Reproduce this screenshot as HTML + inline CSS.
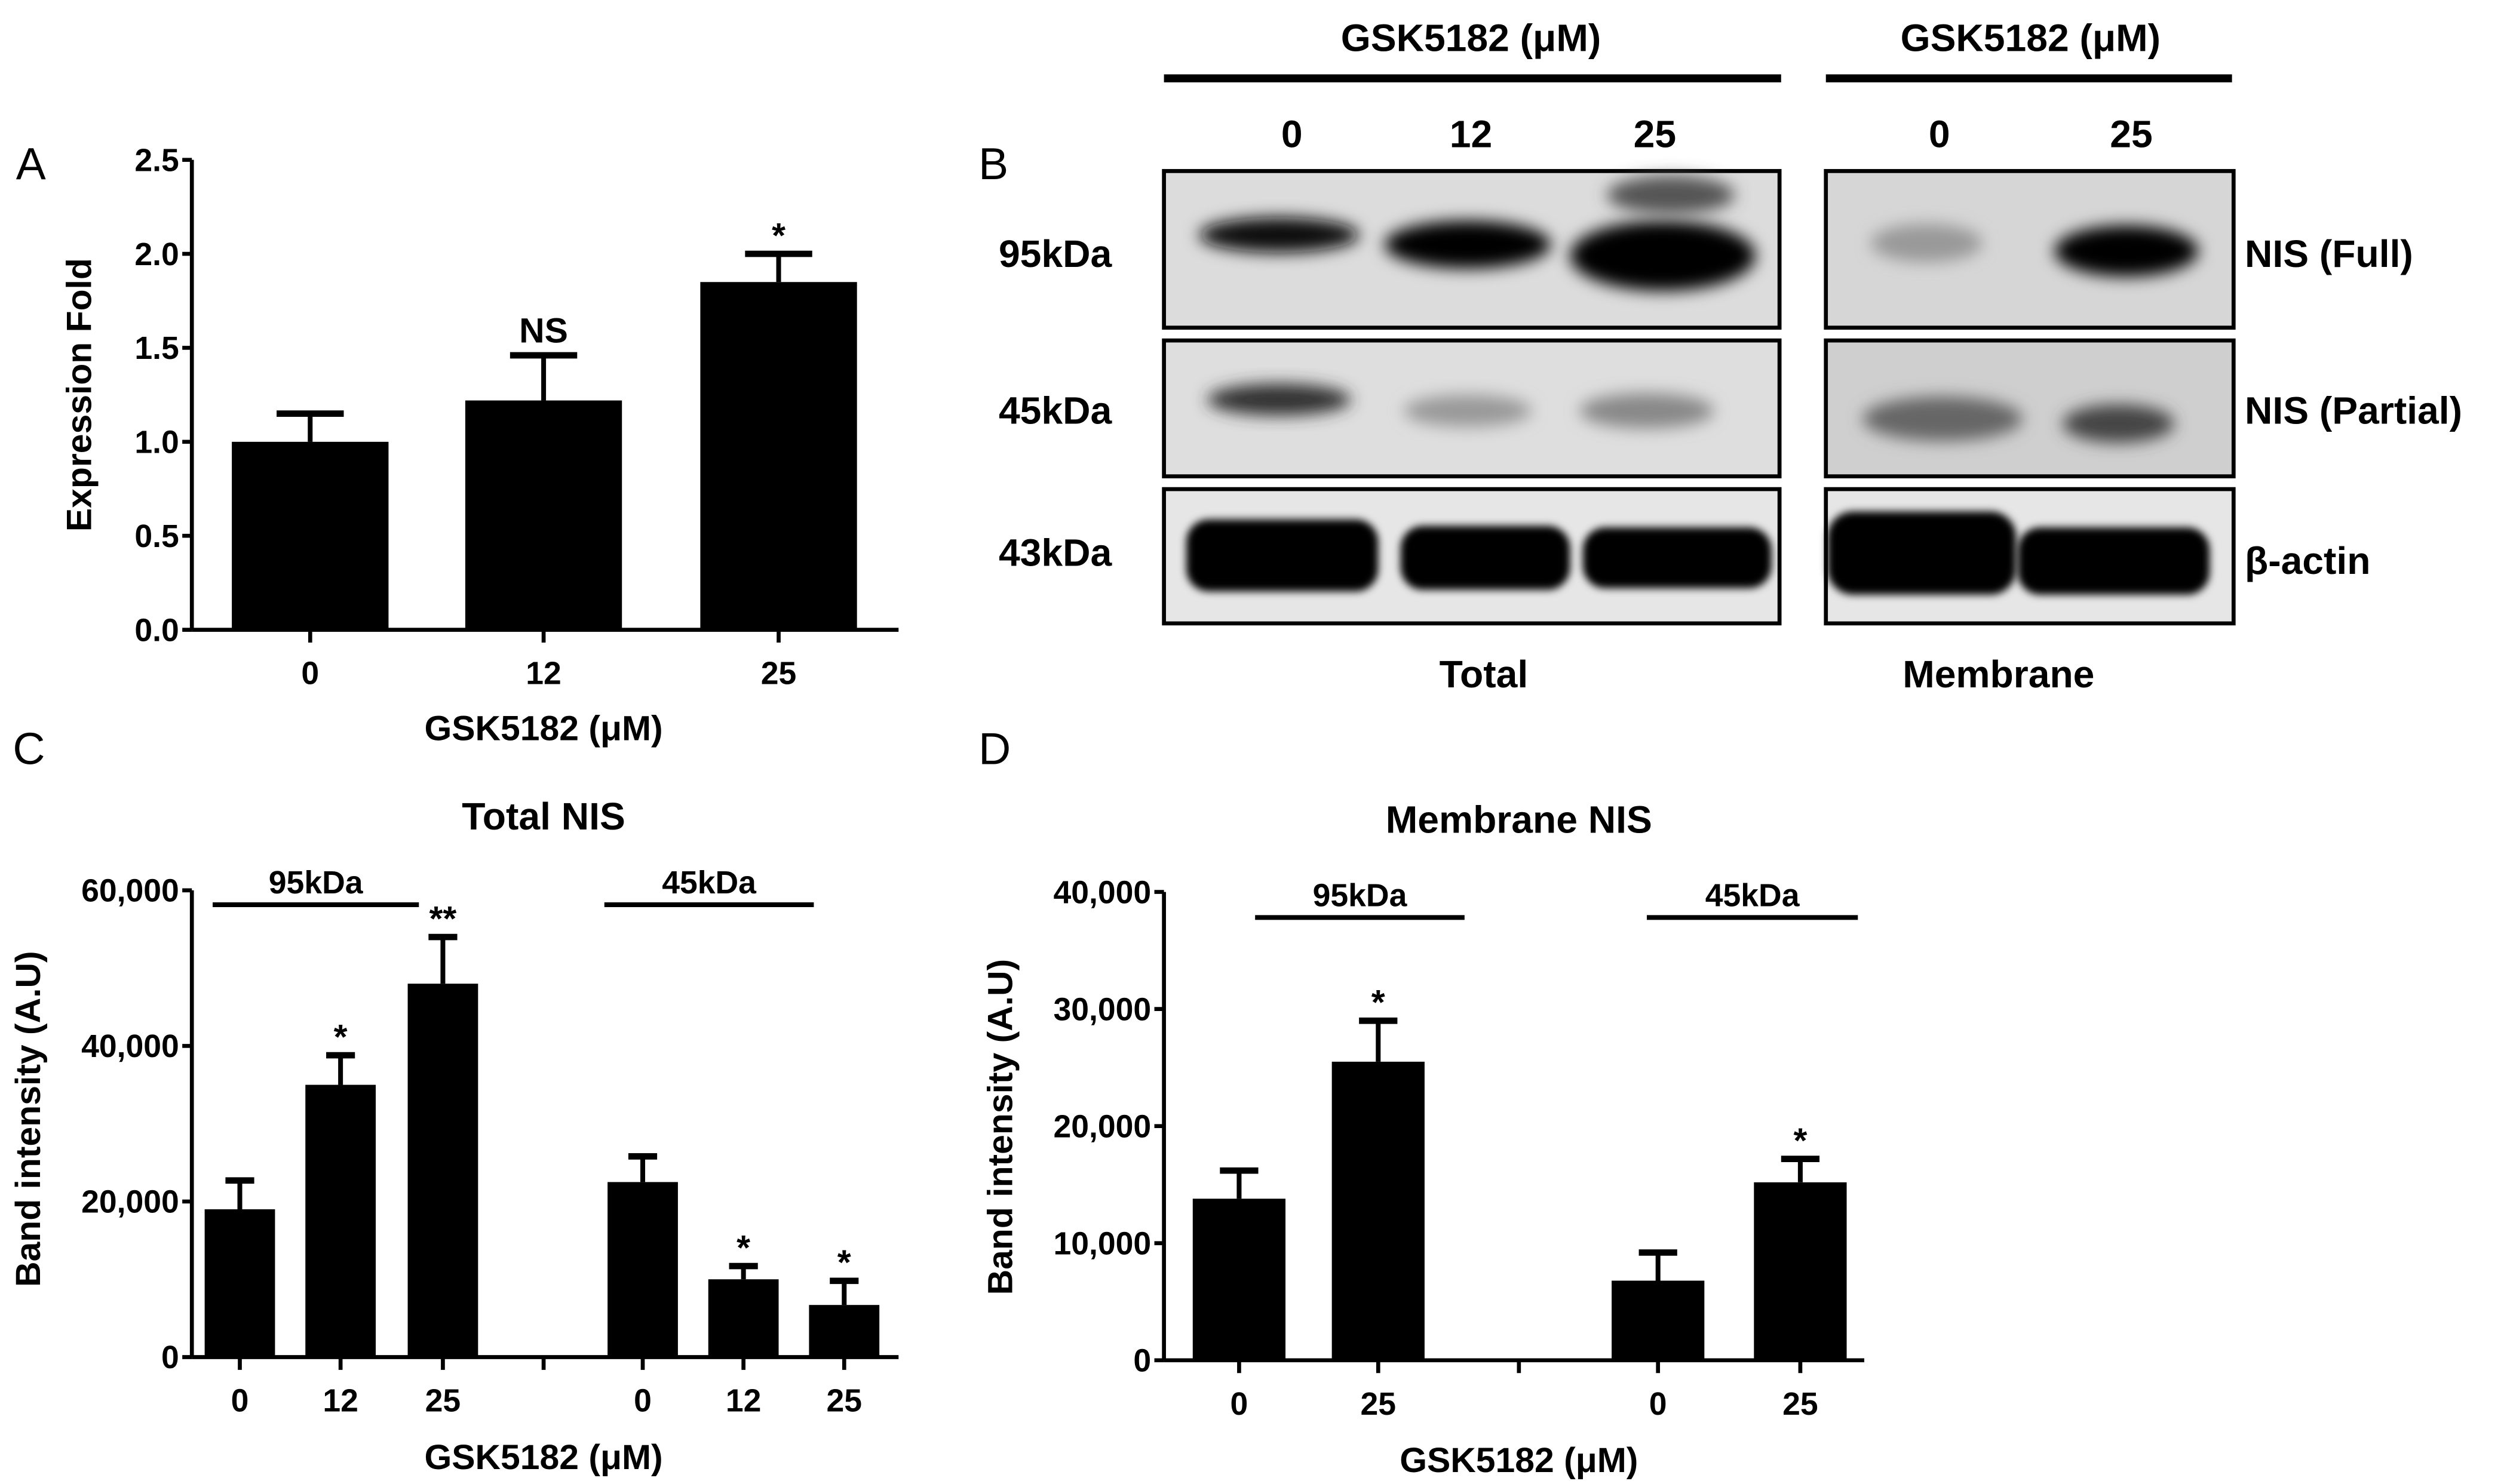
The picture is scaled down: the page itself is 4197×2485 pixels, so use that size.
<!DOCTYPE html>
<html><head><meta charset="utf-8"><style>
html,body{margin:0;padding:0;background:#fff}
svg{display:block}
text{font-family:"Liberation Sans",sans-serif;font-weight:bold;fill:#000}
</style></head><body>
<svg id="fig" width="4197" height="2485" viewBox="0 0 1568 928.4" xmlns="http://www.w3.org/2000/svg">
<defs>
<filter id="blur" x="-20%" y="-50%" width="140%" height="200%"><feGaussianBlur stdDeviation="5"/></filter>
<filter id="blur2" x="-20%" y="-50%" width="140%" height="200%"><feGaussianBlur stdDeviation="2.5"/></filter>
</defs>
<g id="panelA"></g>
<g id="panelB">
  <text x="10" y="112" font-size="28" style="font-weight:normal">A</text>
  <text x="612" y="112" font-size="28" style="font-weight:normal">B</text>
  <text x="8" y="478" font-size="28" style="font-weight:normal">C</text>
  <text x="612" y="478" font-size="28" style="font-weight:normal">D</text>
  <text x="920" y="32" font-size="24" text-anchor="middle">GSK5182 (μM)</text>
  <line x1="728" y1="49" x2="1114" y2="49" stroke="#000" stroke-width="5"/>
  <text x="1270" y="32" font-size="24" text-anchor="middle">GSK5182 (μM)</text>
  <line x1="1142" y1="49" x2="1396" y2="49" stroke="#000" stroke-width="5"/>
  <text x="808" y="92" font-size="24" text-anchor="middle">0</text>
  <text x="920" y="92" font-size="24" text-anchor="middle">12</text>
  <text x="1035" y="92" font-size="24" text-anchor="middle">25</text>
  <text x="1213" y="92" font-size="24" text-anchor="middle">0</text>
  <text x="1333" y="92" font-size="24" text-anchor="middle">25</text>
  <text x="660" y="167" font-size="24" text-anchor="middle">95kDa</text>
  <text x="660" y="265" font-size="24" text-anchor="middle">45kDa</text>
  <text x="660" y="354" font-size="24" text-anchor="middle">43kDa</text>
  <text x="1404" y="167" font-size="24">NIS (Full)</text>
  <text x="1404" y="265" font-size="24">NIS (Partial)</text>
  <text x="1404" y="359" font-size="24">β-actin</text>
  <text x="928" y="430" font-size="24" text-anchor="middle">Total</text>
  <text x="1250" y="430" font-size="24" text-anchor="middle">Membrane</text>
  <g>
    <rect x="728" y="107" width="385" height="98" fill="#dcdcdc" stroke="#000" stroke-width="2.5"/>
    <ellipse cx="800" cy="147" rx="50" ry="11" fill="#111" filter="url(#blur)"/>
    <ellipse cx="918" cy="153" rx="52" ry="15" fill="#050505" filter="url(#blur)"/>
    <ellipse cx="1040" cy="160" rx="58" ry="22" fill="#000" filter="url(#blur)"/>
    <ellipse cx="1045" cy="122" rx="40" ry="12" fill="#555" filter="url(#blur)"/>
  </g>
  <g>
    <rect x="728" y="213" width="385" height="85" fill="#dedede" stroke="#000" stroke-width="2.5"/>
    <ellipse cx="800" cy="250" rx="45" ry="10" fill="#333" filter="url(#blur)"/>
    <ellipse cx="918" cy="257" rx="40" ry="10" fill="#999" filter="url(#blur)"/>
    <ellipse cx="1030" cy="257" rx="42" ry="11" fill="#888" filter="url(#blur)"/>
  </g>
  <g>
    <rect x="728" y="306" width="385" height="84" fill="#e6e6e6" stroke="#000" stroke-width="2.5"/>
    <rect x="742" y="325" width="120" height="45" rx="14" fill="#000" filter="url(#blur2)"/>
    <rect x="876" y="329" width="106" height="40" rx="14" fill="#000" filter="url(#blur2)"/>
    <rect x="990" y="330" width="118" height="38" rx="14" fill="#000" filter="url(#blur2)"/>
  </g>
  <g>
    <rect x="1142" y="107" width="255" height="98" fill="#d6d6d6" stroke="#000" stroke-width="2.5"/>
    <ellipse cx="1205" cy="152" rx="35" ry="12" fill="#999" filter="url(#blur)"/>
    <ellipse cx="1330" cy="157" rx="45" ry="16" fill="#050505" filter="url(#blur)"/>
  </g>
  <g>
    <rect x="1142" y="213" width="255" height="85" fill="#cfcfcf" stroke="#000" stroke-width="2.5"/>
    <ellipse cx="1215" cy="262" rx="50" ry="14" fill="#666" filter="url(#blur)"/>
    <ellipse cx="1325" cy="265" rx="35" ry="12" fill="#444" filter="url(#blur)"/>
  </g>
  <g>
    <rect x="1142" y="306" width="255" height="84" fill="#e6e6e6" stroke="#000" stroke-width="2.5"/>
    <rect x="1143" y="320" width="118" height="52" rx="16" fill="#000" filter="url(#blur2)"/>
    <rect x="1262" y="330" width="120" height="42" rx="14" fill="#000" filter="url(#blur2)"/>
  </g>
</g>
<g id="panelC"></g>
<g id="panelD"></g>
</svg>
<script>
const aCategories = ["0","12","25"];
const aValues = [1.0, 1.22, 1.85];
const aErrors = [0.15, 0.24, 0.15];
const aSig = ["", "NS", "*"];
const aTicks = [0, 0.5, 1.0, 1.5, 2.0, 2.5];
const aTickLabels = ["0.0","0.5","1.0","1.5","2.0","2.5"];
const cCategories = ["0","12","25","0","12","25"];
const cValues = [19000, 35000, 48000, 22500, 10000, 6700];
const cErrors = [3700, 3800, 6000, 3300, 1700, 3100];
const cSig = ["", "*", "**", "", "*", "*"];
const cTicks = [0, 20000, 40000, 60000];
const cTickLabels = ["0","20,000","40,000","60,000"];
const dCategories = ["0","25","0","25"];
const dValues = [13800, 25500, 6800, 15200];
const dErrors = [2400, 3500, 2400, 2000];
const dSig = ["", "*", "", "*"];
const dTicks = [0, 10000, 20000, 30000, 40000];
const dTickLabels = ["0","10,000","20,000","30,000","40,000"];

const NS = "http://www.w3.org/2000/svg";
function mk(parent, tag, attrs, txt){
  const e = document.createElementNS(NS, tag);
  for (const k in attrs) e.setAttribute(k, attrs[k]);
  if (txt !== undefined) e.textContent = txt;
  parent.appendChild(e);
  return e;
}
function drawPanel(g, cfg){
  const y = v => cfg.y0 - v / cfg.ymax * (cfg.y0 - cfg.y1);
  const ya = mk(g, "line", {x1:cfg.ax, y1:cfg.y1, x2:cfg.ax, y2:cfg.y0, stroke:"#000", "stroke-width":2.5});
  
  
  const xa = mk(g, "line", {x1:cfg.ax, y1:cfg.y0, x2:cfg.xend, y2:cfg.y0, stroke:"#000", "stroke-width":2.5});
  
  
  cfg.ticks.forEach((t,i)=>{
    const tl = mk(g, "line", {x1:cfg.ax-6, y1:y(t), x2:cfg.ax, y2:y(t), stroke:"#000", "stroke-width":2.5});
    
    
    const tt = mk(g, "text", {x:cfg.ax-8, y:y(t)+7, "font-size":20, "text-anchor":"end"}, cfg.tickLabels[i]);
    
    
  });
  cfg.cats.forEach((c,i)=>{
    const cx = cfg.xs[i];
    const v = cfg.vals[i], e = cfg.errs[i];
    const b = mk(g, "rect", {x:cx-cfg.bw/2, y:y(v), width:cfg.bw, height:cfg.y0-y(v), fill:"#000"});
    
    
    const el = mk(g, "line", {x1:cx, y1:y(v), x2:cx, y2:y(v+e), stroke:"#000", "stroke-width":3});
    
    
    const ec = mk(g, "line", {x1:cx-cfg.cap, y1:y(v+e), x2:cx+cfg.cap, y2:y(v+e), stroke:"#000", "stroke-width":4});
    
    
    const xt = mk(g, "line", {x1:cx, y1:cfg.y0, x2:cx, y2:cfg.y0+8, stroke:"#000", "stroke-width":2.5});
    
    
    const xl = mk(g, "text", {x:cx, y:cfg.y0+34, "font-size":20, "text-anchor":"middle"}, c);
    
    
    if (cfg.sig[i]) {
      const isStar = cfg.sig[i].indexOf("*")>=0;
      const s = mk(g, "text", {x:cx, y:y(v+e)-(isStar?4:8), "font-size":isStar?22:22, "text-anchor":"middle"}, cfg.sig[i]);
      
      
    }
  });
  if (cfg.breakX) {
    const bt = mk(g, "line", {x1:cfg.breakX, y1:cfg.y0, x2:cfg.breakX, y2:cfg.y0+8, stroke:"#000", "stroke-width":2.5});
    
    
  }
  const xt = mk(g, "text", {x:cfg.xlx, y:cfg.xly, "font-size":22, "text-anchor":"middle"}, "GSK5182 (μM)");
  
  
  const yt = mk(g, "text", {x:0, y:0, "font-size":cfg.ylfs, "text-anchor":"middle", transform:`translate(${cfg.ylx},${cfg.yly}) rotate(-90)`}, cfg.ylabel);
  
  
  if (cfg.title) {
    const ti = mk(g, "text", {x:cfg.tx, y:cfg.ty, "font-size":24, "text-anchor":"middle"}, cfg.title);
    
    
  }
  (cfg.brackets||[]).forEach(br=>{
    const l = mk(g, "line", {x1:br[0], y1:br[2], x2:br[1], y2:br[2], stroke:"#000", "stroke-width":3});
    
    
    const t = mk(g, "text", {x:(br[0]+br[1])/2, y:br[2]-7, "font-size":20, "text-anchor":"middle"}, br[3]);
    
    
  });
}
drawPanel(document.getElementById("panelA"), {
  ax:120, y0:394, y1:100, ymax:2.5, xend:562, ticks:aTicks, tickLabels:aTickLabels,
  cats:aCategories, vals:aValues, errs:aErrors, sig:aSig, xs:[194,340,487], bw:98, cap:21,
  xlx:340, xly:463, ylx:57, yly:247, ylabel:"Expression Fold", ylfs:22
});
drawPanel(document.getElementById("panelC"), {
  ax:120, y0:849, y1:557, ymax:60000, xend:562, ticks:cTicks, tickLabels:cTickLabels,
  cats:cCategories, vals:cValues, errs:cErrors, sig:cSig, xs:[150,213,277,402,465,528], bw:44, cap:9,
  breakX:340, xlx:340, xly:919, ylx:25, yly:700, ylabel:"Band intensity (A.U)", ylfs:22,
  title:"Total NIS", tx:340, ty:519,
  brackets:[[133,262,566,"95kDa"],[378,509,566,"45kDa"]]
});
drawPanel(document.getElementById("panelD"), {
  ax:728, y0:851, y1:558, ymax:40000, xend:1166, ticks:dTicks, tickLabels:dTickLabels,
  cats:dCategories, vals:dValues, errs:dErrors, sig:dSig, xs:[775,862,1037,1126], bw:58, cap:12,
  breakX:950, xlx:950, xly:921, ylx:633, yly:705, ylabel:"Band intensity (A.U)", ylfs:22,
  title:"Membrane NIS", tx:950, ty:521,
  brackets:[[785,916,574,"95kDa"],[1030,1162,574,"45kDa"]]
});
</script>
</body></html>
